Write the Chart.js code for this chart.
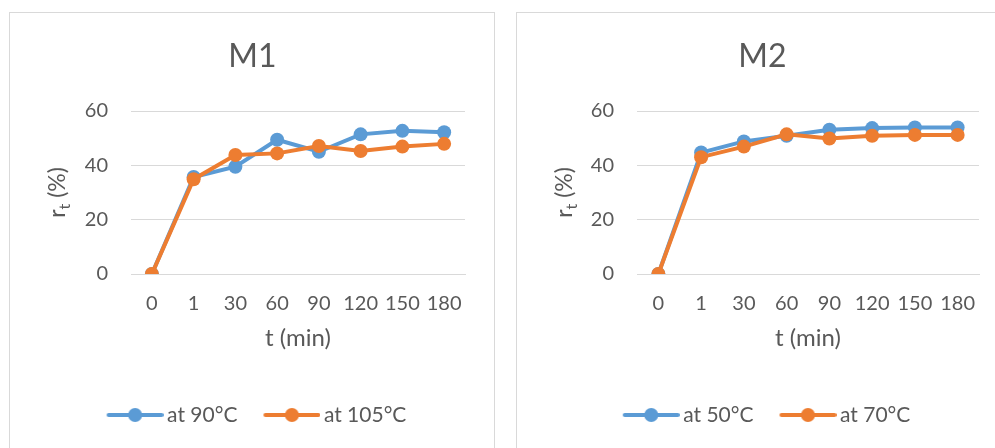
<!DOCTYPE html>
<html>
<head>
<meta charset="utf-8">
<script src="https://cdn.jsdelivr.net/npm/chart.js@4.4.1/dist/chart.umd.min.js"></script>
<style>
  html, body { margin: 0; padding: 0; background: #fff; overflow: hidden; width: 995px; height: 448px; }
  .panel { position: absolute; top: 12px; width: 484px; height: 450px; border: 1px solid #d9d9d9; background: #fff; }
  #p1 { left: 9px; }
  #p2 { left: 516px; }
  canvas { display: block; }
</style>
</head>
<body>
<div class="panel" id="p1"><canvas id="chartM1" width="484" height="435"></canvas></div>
<div class="panel" id="p2"><canvas id="chartM2" width="484" height="435"></canvas></div>
<script>
// reaction time (min)
const categories = ['0', '1', '30', '60', '90', '120', '150', '180'];
// rt (%)
const m1At90 = [0, 35.7, 39.5, 49.4, 45.0, 51.4, 52.7, 52.2];
const m1At105 = [0, 34.9, 43.8, 44.4, 47.1, 45.3, 46.9, 47.9];
const m2At50 = [0, 44.7, 48.8, 50.9, 53.1, 53.7, 53.9, 53.9];
const m2At70 = [0, 43.0, 46.9, 51.4, 49.9, 50.9, 51.2, 51.2];
const yMin = 0, yMax = 60, yStep = 20;

const BLUE = '#5b9bd5';
const ORANGE = '#ed7d31';
const TEXT = '#595959';
const GRID = '#d9d9d9';

Chart.defaults.font.family = 'Lato, "Liberation Sans", sans-serif';
Chart.defaults.color = TEXT;

// little line + marker picture for the legend (drawn right of centre)
function legendMark(color) {
    var c = document.createElement('canvas');
    c.width = 72; c.height = 16;
    var g = c.getContext('2d');
    g.strokeStyle = color; g.lineWidth = 4; g.lineCap = 'round';
    g.beginPath(); g.moveTo(17, 8); g.lineTo(70, 8); g.stroke();
    g.fillStyle = color;
    g.beginPath(); g.arc(43.5, 8, 7, 0, Math.PI * 2); g.fill();
    return c;
}

// y title with subscript: r_t (%)
const yTitlePlugin = {
    id: 'yTitle',
    afterDraw(chart, args, opts) {
        var ctx = chart.ctx;
        var a = chart.chartArea;
        var big = '23px Lato', small = '16px Lato';
        ctx.save();
        ctx.font = big; var w1 = ctx.measureText('r').width;
        var w3 = ctx.measureText(' (%)').width;
        ctx.font = small; var w2 = ctx.measureText('t').width;
        var total = w1 + w2 + w3;
        ctx.translate(opts.x, (a.top + a.bottom) / 2);
        ctx.rotate(-Math.PI / 2);
        ctx.fillStyle = TEXT;
        ctx.textBaseline = 'alphabetic';
        ctx.textAlign = 'left';
        var x = -total / 2;
        ctx.font = big; ctx.fillText('r', x, 0); x += w1;
        ctx.font = small; ctx.fillText('t', x, 5); x += w2;
        ctx.font = big; ctx.fillText(' (%)', x, 0);
        ctx.restore();
    }
};

function makeChart(id, title, labelA, dataA, labelB, dataB, layout) {
    var ctx = document.getElementById(id).getContext('2d');
    return new Chart(ctx, {
        type: 'line',
        data: {
            labels: categories,
            datasets: [{
                label: labelA,
                data: dataA,
                borderColor: BLUE,
                backgroundColor: BLUE,
                borderWidth: 4,
                pointRadius: 7,
                pointBorderWidth: 0,
                pointBackgroundColor: BLUE,
                order: 1
            }, {
                label: labelB,
                data: dataB,
                borderColor: ORANGE,
                backgroundColor: ORANGE,
                borderWidth: 4,
                pointRadius: 7,
                pointBorderWidth: 0,
                pointBackgroundColor: ORANGE,
                order: 0
            }]
        },
        options: {
            responsive: false,
            animation: false,
            layout: { padding: { left: layout.padLeft, right: layout.padRight, top: 0, bottom: 12.5 } },
            scales: {
                x: {
                    offset: true,
                    grid: { display: false, drawTicks: false },
                    border: { display: true, color: GRID, width: 1 },
                    ticks: { padding: 17.5, color: TEXT, font: { size: 20 }, maxRotation: 0, autoSkip: false },
                    title: { display: true, text: 't (min)', color: TEXT, font: { size: 24 }, padding: { top: 0, bottom: 33.5 } },
                    afterFit: function (s) { s.height = 112.5; }
                },
                y: {
                    min: yMin,
                    max: yMax,
                    grid: { color: GRID, lineWidth: 1, drawTicks: false },
                    border: { display: false },
                    ticks: { stepSize: yStep, padding: 23, color: TEXT, font: { size: 20 } },
                    afterFit: function (s) { s.width = layout.yWidth; }
                }
            },
            plugins: {
                title: {
                    display: true,
                    text: title,
                    color: TEXT,
                    font: { size: 32, weight: 'normal' },
                    padding: { top: 24, bottom: 35.6 }
                },
                legend: {
                    position: 'bottom',
                    labels: {
                        usePointStyle: true,
                        pointStyleWidth: 58,
                        padding: 18,
                        color: TEXT,
                        font: { size: 21 },
                        sort: function (a, b) { return a.datasetIndex - b.datasetIndex; },
                        generateLabels: function (chart) {
                            var items = Chart.defaults.plugins.legend.labels.generateLabels(chart);
                            items.forEach(function (it) {
                                it.pointStyle = legendMark(it.datasetIndex === 0 ? BLUE : ORANGE);
                            });
                            return items;
                        }
                    }
                },
                tooltip: { enabled: false },
                yTitle: { x: layout.titleX }
            }
        },
        plugins: [yTitlePlugin]
    });
}

makeChart('chartM1', 'M1', 'at 90°C', m1At90, 'at 105°C', m1At105,
    { padLeft: 30, padRight: 29, yWidth: 91, titleX: 55 });
makeChart('chartM2', 'M2', 'at 50°C', m2At50, 'at 70°C', m2At70,
    { padLeft: 29, padRight: 22, yWidth: 91, titleX: 55 });
</script>
</body>
</html>
